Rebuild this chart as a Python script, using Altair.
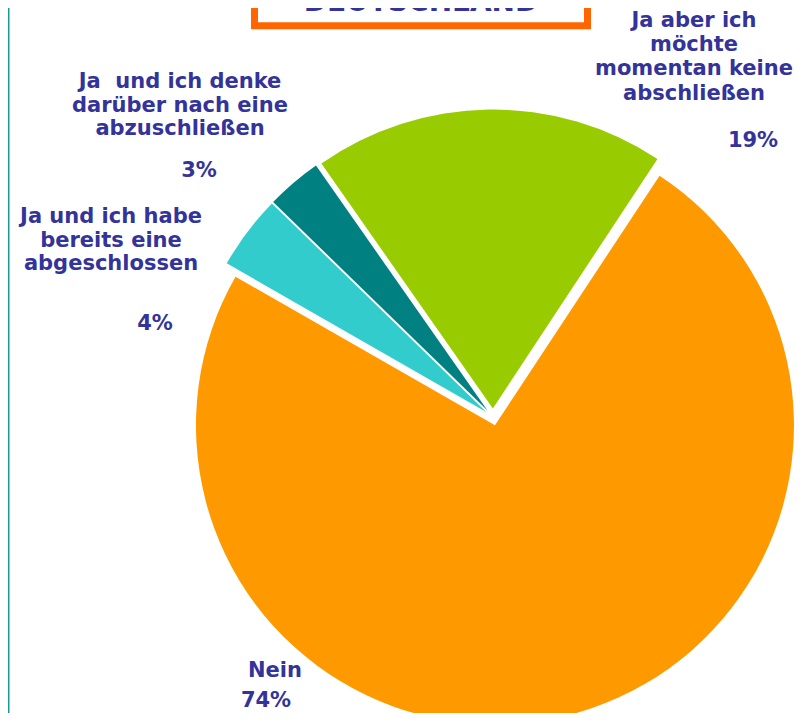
import math
import altair as alt
import pandas as pd

# ---------------- data ----------------
categories = [
    "Ja aber ich möchte momentan keine abschließen",
    "Nein",
    "Ja und ich habe bereits eine abgeschlossen",
    "Ja  und ich denke darüber nach eine abzuschließen",
]
values = [19, 74, 4, 3]
percent_labels = ["19%", "74%", "4%", "3%"]
label_texts = [
    "Ja aber ich\nmöchte\nmomentan keine\nabschließen",
    "Nein",
    "Ja und ich habe\nbereits eine\nabgeschlossen",
    "Ja\u00a0 und ich denke\ndarüber nach eine\nabzuschließen",
]
slice_colors = ["#99CC00", "#FF9900", "#33CCCC", "#008080"]
title_text = "DEUTSCHLAND"

# ---------------- layout / style ----------------
W, H = 792, 705
CX, CY = 485, 409
R = 299
EXPLODE = 8.5
START = math.radians(-35.0)
TEXT_COLOR = "#333399"
FONT = "DejaVu Sans"

df = pd.DataFrame({"category": categories, "value": values,
                   "order": list(range(len(values)))})

pie = (
    alt.Chart(df)
    .transform_joinaggregate(total="sum(value)")
    .transform_window(cum="sum(value)", sort=[alt.SortField("order")], frame=[None, 0])
    .transform_calculate(mid=f"{START} + 2*PI*(datum.cum - datum.value/2)/datum.total")
    .transform_calculate(
        cx=f"{CX} + {EXPLODE}*sin(datum.mid)",
        cy=f"{CY} - {EXPLODE}*cos(datum.mid)",
    )
    .mark_arc(outerRadius=R)
    .encode(
        theta=alt.Theta("value:Q", stack=True,
                        scale=alt.Scale(range=[START, START + 2 * math.pi], zero=True, nice=False)),
        order=alt.Order("order:Q"),
        color=alt.Color("category:N", scale=alt.Scale(domain=categories, range=slice_colors),
                        legend=None),
        x=alt.X("cx:N", scale=None, axis=None),
        y=alt.Y("cy:N", scale=None, axis=None),
    )
)


def text_layer(text, x, y, size=21, line_height=23.5, font=FONT):
    return (
        alt.Chart(pd.DataFrame({"t": [text]}))
        .mark_text(font=font, fontSize=size, fontWeight="bold", color=TEXT_COLOR,
                   align="center", baseline="alphabetic", lineBreak="\n",
                   lineHeight=line_height)
        .encode(text="t:N", x=alt.value(x), y=alt.value(y))
    )


# title box (partly cut off at the top, as in the reference)
title_box = alt.Chart(pd.DataFrame({"a": [0]})).mark_rect(
    fill="white", stroke="#FF6600", strokeWidth=7
).encode(x=alt.value(246.5), x2=alt.value(579.5), y=alt.value(-60), y2=alt.value(17.8))

title = text_layer(title_text, 413, 3, size=28)

left_line = alt.Chart(pd.DataFrame({"a": [0]})).mark_rule(
    color="#189A9A", strokeWidth=1.5
).encode(x=alt.value(0.75), y=alt.value(0), y2=alt.value(H))

labels = [
    text_layer(label_texts[0], 686, 18.7, line_height=24.3),
    text_layer(percent_labels[0], 745, 138.7),
    text_layer(label_texts[1], 267, 669),
    text_layer(percent_labels[1], 258, 699),
    text_layer(label_texts[2], 103, 215.3, line_height=23.4),
    text_layer(percent_labels[2], 147, 322),
    text_layer(label_texts[3], 172, 80.3, line_height=23.4),
    text_layer(percent_labels[3], 191, 169.3),
]

chart = (
    alt.layer(left_line, pie, title_box, title, *labels)
    .properties(width=W, height=H, autosize=alt.AutoSizeParams(type="none"), padding=0,
                background="white")
    .configure_view(strokeWidth=0)
)

chart.save("out.html", embed_options={"renderer": "svg", "actions": False})
